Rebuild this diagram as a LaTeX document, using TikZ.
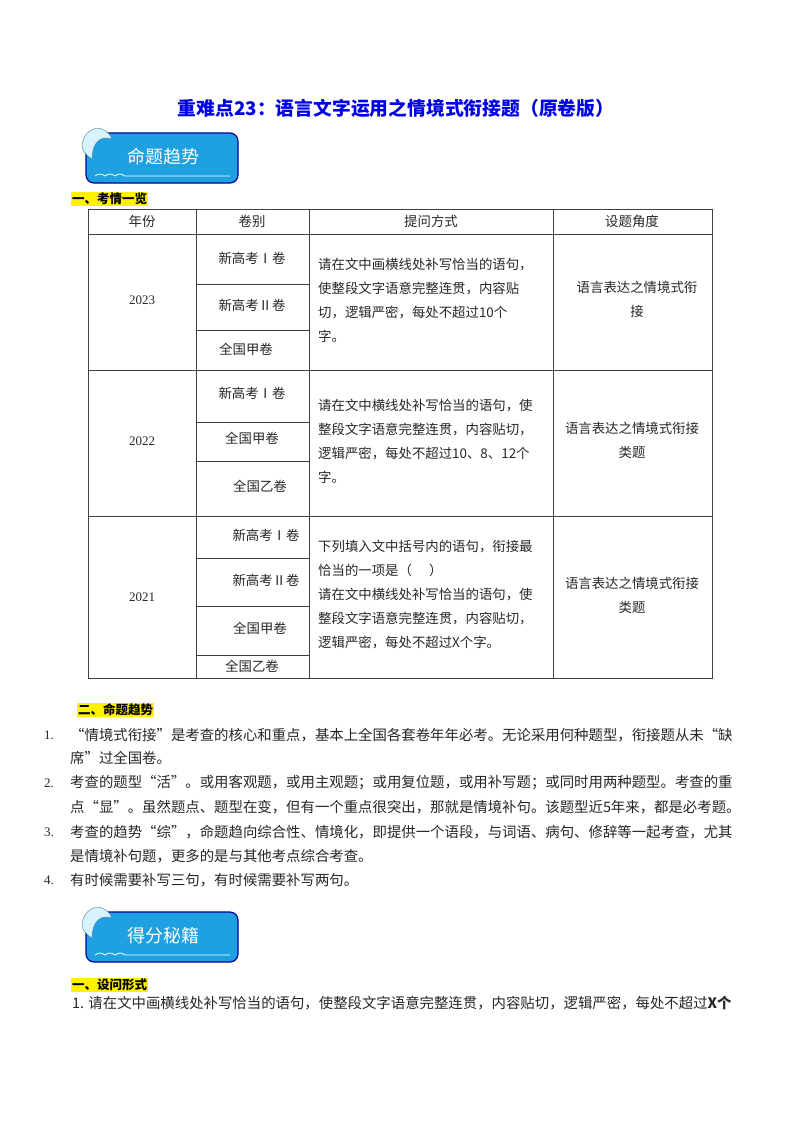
\documentclass[tikz,border=0pt]{standalone}
\usepackage{fontspec}
\setmainfont{Noto Sans CJK SC}
\newfontfamily\numfont{Liberation Serif}
\begin{document}
\begin{tikzpicture}[x=1pt,y=-1pt,
  cell/.style={font=\fontsize{13.4}{24}\selectfont,color=black!85,inner sep=0},
  body/.style={font=\fontsize{14.4}{16}\selectfont,anchor=west,inner sep=0,color=black!85},
  hl/.style={font=\fontsize{12.5}{14}\selectfont\bfseries,fill=yellow,anchor=west,inner sep=1pt},
  banner/.style={draw=blue!60!black,line width=1.2,rounded corners=8,fill={rgb,255:red,30;green,160;blue,225}},
  grid/.style={line width=0.7,color=black!75}]
\useasboundingbox (0,0) rectangle (800,1132);
\node[font=\fontsize{18.8}{22}\selectfont\bfseries,color={rgb,255:red,0;green,0;blue,230}] (title) at (396,108) {重难点23：语言文字运用之情境式衔接题（原卷版）};
% banners
\foreach \yy/\txt/\nm in {133/命题趋势/ba,912/得分秘籍/bb}{
  \draw[banner] (86,\yy) rectangle (238,\yy+50);
  \node[font=\fontsize{18}{20}\selectfont,white] (\nm) at (163,\yy+24) {\txt};
  \draw[white,line width=0.8] (95,\yy+43) sin (100,\yy+41) cos (105,\yy+43) sin (110,\yy+41) cos (115,\yy+43) sin (120,\yy+41) cos (125,\yy+43) -- (230,\yy+43);
  \fill[white!85!cyan,draw=cyan!60!black,line width=0.4] (82,\yy+12) .. controls (85,\yy-8) and (105,\yy-10) .. (112,\yy+6) .. controls (100,\yy+2) and (92,\yy+10) .. (92,\yy+26) .. controls (86,\yy+22) and (82,\yy+18) .. (82,\yy+12);
}
\node[hl] (h1) at (71,199) {一、考情一览};
% table
\draw[grid] (88,209) rectangle (712,678);
\foreach \xx in {196,309,553} \draw[grid] (\xx,209) -- (\xx,678);
\foreach \yy in {234,370,516} \draw[grid] (88,\yy) -- (712,\yy);
\foreach \yy in {284,330,422,461,558,606,655} \draw[grid] (196,\yy) -- (309,\yy);
\node[cell] (c1) at (142,221) {年份};
\node[cell] (c2) at (252,221) {卷别};
\node[cell] (c3) at (431,221) {提问方式};
\node[cell] (c4) at (632,221) {设题角度};
\node[cell,font=\numfont\fontsize{13}{16}\selectfont] (y1) at (142,300) {2023};
\node[cell,font=\numfont\fontsize{13}{16}\selectfont] (y2) at (142,441) {2022};
\node[cell,font=\numfont\fontsize{13}{16}\selectfont] (y3) at (142,597) {2021};
\node[cell] (a1) at (252,258) {新高考Ⅰ卷};
\node[cell] (a2) at (252,305) {新高考Ⅱ卷};
\node[cell] (a3) at (246,349) {全国甲卷};
\node[cell] (b1) at (252,393) {新高考Ⅰ卷};
\node[cell] (b2) at (252,438) {全国甲卷};
\node[cell] (b3) at (260,486) {全国乙卷};
\node[cell] (d1) at (266,535) {新高考Ⅰ卷};
\node[cell] (d2) at (266,580) {新高考Ⅱ卷};
\node[cell] (d3) at (260,628) {全国甲卷};
\node[cell] (d4) at (252,666) {全国乙卷};
\node[cell,anchor=west,align=left] (q1) at (318,300) {请在文中画横线处补写恰当的语句，\\使整段文字语意完整连贯，内容贴\\切，逻辑严密，每处不超过10个\\字。};
\node[cell,anchor=west,align=left] (q2) at (318,441) {请在文中横线处补写恰当的语句，使\\整段文字语意完整连贯，内容贴切，\\逻辑严密，每处不超过10、8、12个\\字。};
\node[cell,anchor=west,align=left] (q3) at (318,595) {下列填入文中括号内的语句，衔接最\\恰当的一项是（\quad\;）\\请在文中横线处补写恰当的语句，使\\整段文字语意完整连贯，内容贴切，\\逻辑严密，每处不超过X个字。};
\node[cell,align=center] (s1) at (637,299) {语言表达之情境式衔\\接};
\node[cell,align=center] (s2) at (632,440) {语言表达之情境式衔接\\类题};
\node[cell,align=center] (s3) at (632,595) {语言表达之情境式衔接\\类题};
% trends
\node[hl] (h2) at (77,710) {二、命题趋势};
\foreach \n/\yy in {1/735,2/783,3/832,4/880} \node[body,font=\numfont\fontsize{13}{16}\selectfont] (n\n) at (44,\yy) {\n.};
\node[body] (l1) at (70,735) {“情境式衔接”是考查的核心和重点，基本上全国各套卷年年必考。无论采用何种题型，衔接题从未“缺};
\node[body] (l2) at (70,758) {席”过全国卷。};
\node[body] (l3) at (70,783) {考查的题型“活”。或用客观题，或用主观题；或用复位题，或用补写题；或同时用两种题型。考查的重};
\node[body] (l4) at (70,807) {点“显”。虽然题点、题型在变，但有一个重点很突出，那就是情境补句。该题型近5年来，都是必考题。};
\node[body] (l5) at (70,832) {考查的趋势“综”，命题趋向综合性、情境化，即提供一个语段，与词语、病句、修辞等一起考查，尤其};
\node[body] (l6) at (70,856) {是情境补句题，更多的是与其他考点综合考查。};
\node[body] (l7) at (70,880) {有时候需要补写三句，有时候需要补写两句。};
\node[hl] (h3) at (71,985) {一、设问形式};
\node[body] (m1) at (72,1003) {1. 请在文中画横线处补写恰当的语句，使整段文字语意完整连贯，内容贴切，逻辑严密，每处不超过\textbf{X个}};
\end{tikzpicture}
\end{document}
